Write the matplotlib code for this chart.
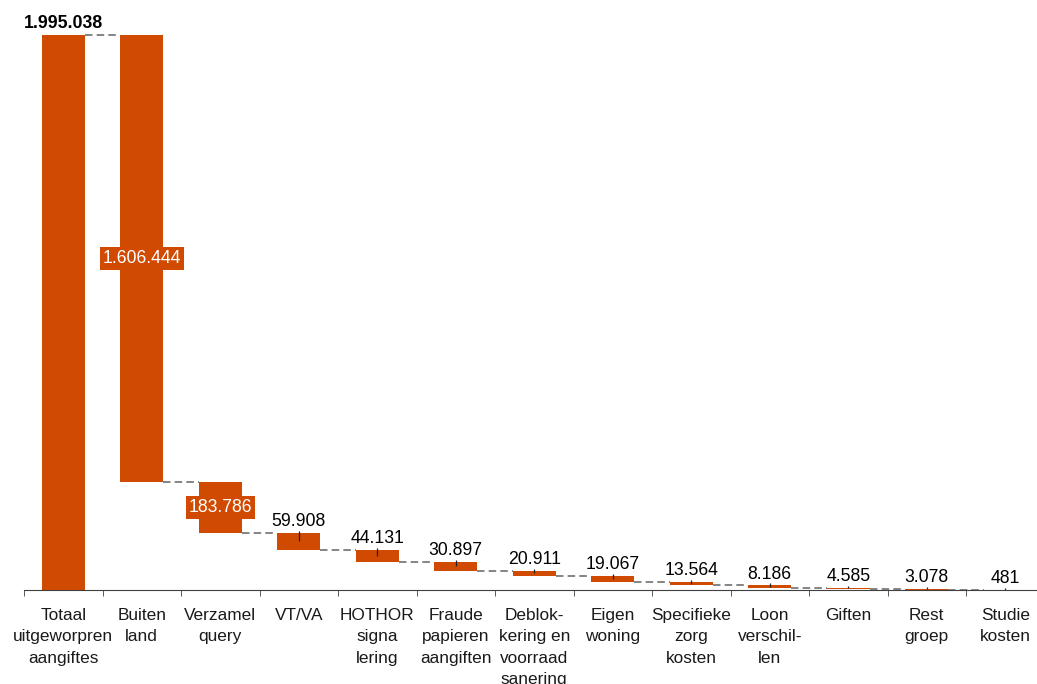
import numpy as np
import matplotlib.pyplot as plt

plt.rcParams['font.family'] = ['Liberation Sans', 'DejaVu Sans']

# Categories and values (first one is the total, the rest are decreasing steps)
categories = [
    'Totaal\nuitgeworpren\naangiftes', 'Buiten\nland', 'Verzamel\nquery', 'VT/VA',
    'HOTHOR\nsigna\nlering', 'Fraude\npapieren\naangiften', 'Deblok-\nkering en\nvoorraad\nsanering',
    'Eigen\nwoning', 'Specifieke\nzorg\nkosten', 'Loon\nverschil-\nlen', 'Giften', 'Rest\ngroep',
    'Studie\nkosten',
]
values = [1995038, 1606444, 183786, 59908, 44131, 30897, 20911, 19067, 13564, 8186, 4585, 3078, 481]
boxed = [1, 2]  # steps with the white label inside the bar

orange = '#D04A02'
total = values[0]

# bar extents of the waterfall
tops = [total]
bottoms = [0]
level = total
for v in values[1:]:
    tops.append(level)
    bottoms.append(level - v)
    level -= v
tops = np.array(tops)
bottoms = np.array(bottoms)
heights = tops - bottoms
x = np.arange(len(categories))
width = 0.55

def fmt(v):
    return f'{v:,}'.replace(',', '.')

fig = plt.figure(figsize=(10.37, 6.84), dpi=100)
ax = fig.add_axes([24 / 1037, 94 / 684, 1020.5 / 1037, 590 / 684])

ax.bar(x, heights, bottom=bottoms, width=width, color=orange, linewidth=0)

# dashed connectors between bars
for i in range(len(x) - 1):
    lvl = tops[i] if i == 0 else bottoms[i]
    ax.plot([x[i] + width / 2, x[i + 1] - width / 2], [lvl, lvl],
            color='#707070', lw=1.2, ls=(0, (4.5, 2.5)))

px = total / 555  # data units per pixel, roughly

# labels
ax.annotate(fmt(values[0]), (x[0], tops[0]), xytext=(0, 5), textcoords='offset points',
            ha='center', va='baseline', fontsize=12.8, fontweight='bold')
for i in range(1, len(x)):
    if i in boxed:
        ax.text(x[i], (tops[i] + bottoms[i]) / 2, fmt(values[i]), ha='center', va='center',
                color='white', fontsize=12.7,
                bbox=dict(boxstyle='square,pad=0.15', fc=orange, ec='none'))
    else:
        ax.annotate(fmt(values[i]), (x[i], tops[i]), xytext=(0, 5), textcoords='offset points',
                    ha='center', va='baseline', fontsize=12.7)
        ax.vlines(x[i], (tops[i] + bottoms[i]) / 2, tops[i] + 2 * px, color='#222222', lw=0.9)

ax.set_xlim(-0.5, len(x) - 0.5)
ax.set_ylim(0, total * 590 / 555)

for s in ['top', 'right', 'left']:
    ax.spines[s].set_visible(False)
ax.spines['bottom'].set_color('#404040')
ax.set_yticks([])

ax.set_xticks(x)
ax.set_xticklabels(categories, fontsize=12.4, linespacing=1.52, color='#1a1a1a')
ax.tick_params(axis='x', which='major', length=0, pad=13)
ax.set_xticks(np.arange(-0.5, len(x), 1), minor=True)
ax.tick_params(axis='x', which='minor', length=4, color='#404040')

fig.savefig('out.png', dpi=100)
